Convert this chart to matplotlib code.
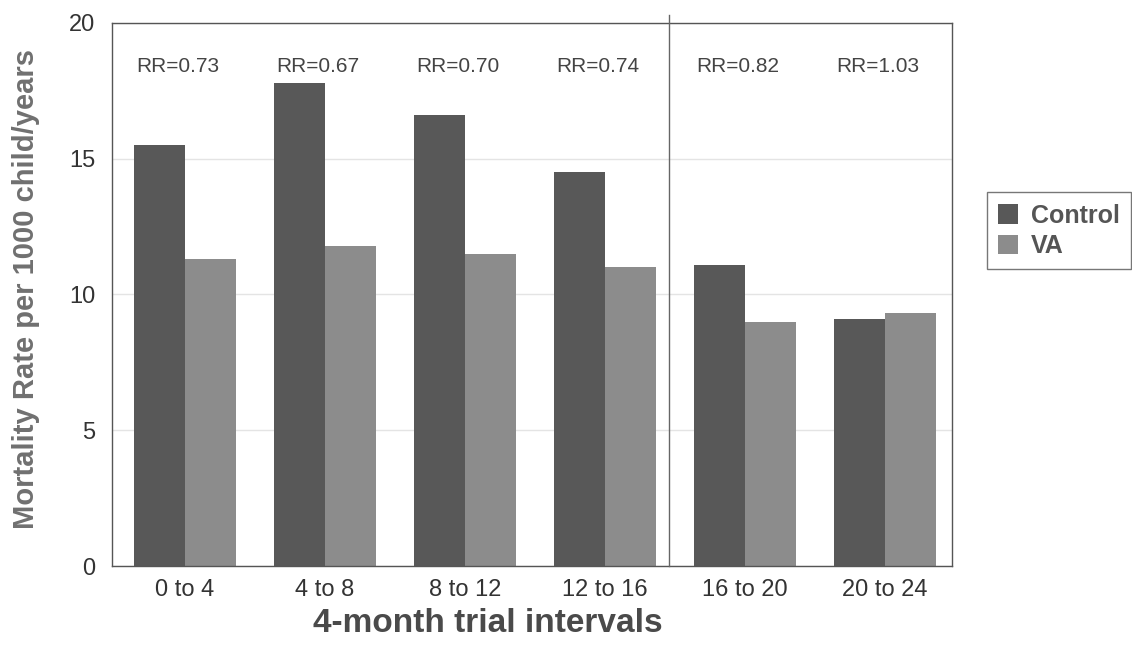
import numpy as np
import matplotlib.pyplot as plt

plt.rcParams['font.family'] = ['Liberation Sans', 'DejaVu Sans']

intervals = ['0 to 4', '4 to 8', '8 to 12', '12 to 16', '16 to 20', '20 to 24']
control = [15.5, 17.8, 16.6, 14.5, 11.1, 9.1]
va = [11.3, 11.8, 11.5, 11.0, 9.0, 9.3]
rr_labels = ['RR=0.73', 'RR=0.67', 'RR=0.70', 'RR=0.74', 'RR=0.82', 'RR=1.03']


def main():
    fig = plt.figure(figsize=(11.32, 6.5), dpi=100)
    ax = fig.add_axes([0.099, 0.129, 0.742, 0.836])

    x = np.arange(len(intervals))
    w = 0.365
    ax.bar(x - w/2, control, w, color='#585858', label='Control', zorder=2)
    ax.bar(x + w/2, va, w, color='#8c8c8c', label='VA', zorder=2)

    for i, txt in enumerate(rr_labels):
        ax.text(x[i] - 0.05, 18.4, txt, ha='center', va='center',
                fontsize=15, color='#444444')

    ax.axvline(3.457, ymin=0, ymax=1.015, color='#666666', lw=1.0,
               clip_on=False, zorder=3)

    ax.set_xlim(-0.52, 5.48)
    ax.set_ylim(0, 20)
    ax.set_yticks([0, 5, 10, 15, 20])
    ax.set_xticks(x)
    ax.set_xticklabels(intervals)
    ax.tick_params(axis='both', length=0, colors='#333333')
    ax.tick_params(axis='y', pad=12, labelsize=17)
    ax.tick_params(axis='x', pad=9, labelsize=17)
    ax.yaxis.grid(True, color='#e4e4e4', lw=1.0, zorder=0)
    for s in ax.spines.values():
        s.set_color('#555555')
        s.set_linewidth(1.0)

    fig.text(0.431, 0.028, '4-month trial intervals', ha='center',
             va='baseline', fontsize=24, fontweight='bold', color='#4a4a4a')
    fig.text(0.023, 0.555, 'Mortality Rate per 1000 child/years',
             rotation=90, ha='center', va='center', fontsize=21,
             fontweight='bold', color='#707070')

    leg = ax.legend(loc='center left', bbox_to_anchor=(1.027, 0.617),
                    prop={'size': 18, 'weight': 'bold'}, frameon=True,
                    fancybox=False, handlelength=0.8, handleheight=0.8,
                    handletextpad=0.5, borderpad=0.45, labelspacing=0.25)
    leg.get_frame().set_edgecolor('#555555')
    for t in leg.get_texts():
        t.set_color('#555555')

    fig.savefig('out.png', dpi=100)


if __name__ == "__main__":
    main()
